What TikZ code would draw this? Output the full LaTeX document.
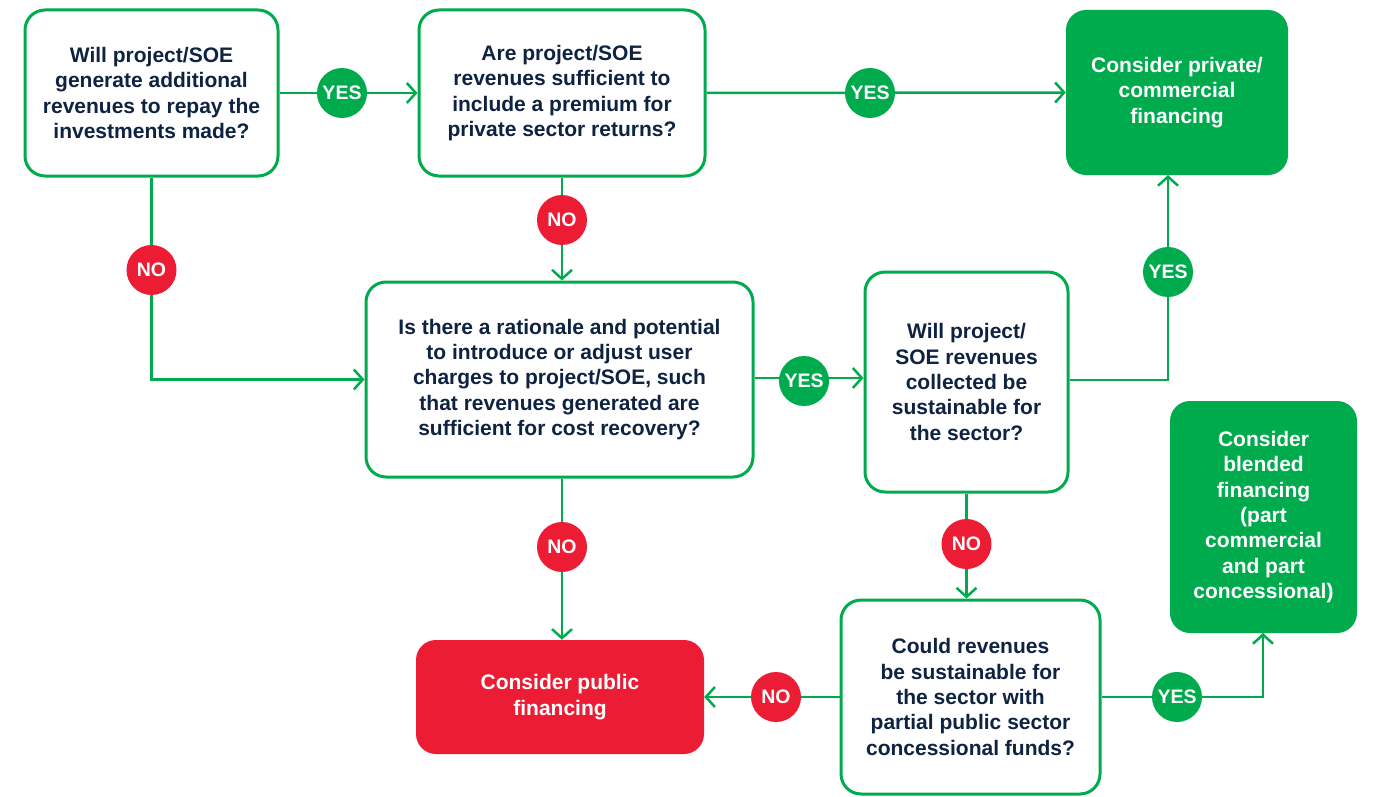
\documentclass[tikz,border=0pt]{standalone}
\usepackage{fontspec}
\setmainfont{Liberation Sans}
\usetikzlibrary{arrows.meta}
\definecolor{gr}{HTML}{00AB4E}
\definecolor{rd}{HTML}{EB1C33}
\definecolor{nv}{HTML}{0E2241}
\begin{document}
\begin{tikzpicture}[x=1pt,y=-1pt,
  q/.style={draw=gr,line width=3pt,rounded corners=20pt,fill=white,text=nv,align=center,
    font=\fontsize{21}{25.3}\selectfont\bfseries,inner sep=0pt},
  gbox/.style={fill=gr,rounded corners=20pt,text=white,align=center,
    font=\fontsize{21}{25.3}\selectfont\bfseries,inner sep=0pt},
  rbox/.style={fill=rd,rounded corners=20pt,text=white,align=center,
    font=\fontsize{21}{25.3}\selectfont\bfseries,inner sep=0pt},
  yes/.style={circle,fill=gr,text=white,minimum size=50pt,inner sep=0pt,font=\fontsize{19.5}{20}\selectfont\bfseries},
  no/.style={circle,fill=rd,text=white,minimum size=50pt,inner sep=0pt,font=\fontsize{19.5}{20}\selectfont\bfseries},
  ln/.style={draw=gr,line width=2.5pt},
  ar/.style={ln,-{Straight Barb[length=9pt,width=20pt,line width=2.5pt]}}]
\useasboundingbox (0,0) rectangle (1376,797);
% boxes
\node[q,minimum width=253pt,minimum height=166pt] (A) at (151.5,93) {Will project/SOE\\generate additional\\revenues to repay the\\investments made?};
\node[q,minimum width=286pt,minimum height=166pt] (B) at (562,93) {Are project/SOE\\revenues sufficient to\\include a premium for\\private sector returns?};
\node[gbox,minimum width=222pt,minimum height=165pt] (C) at (1177,92.5) {Consider private/\\commercial\\financing};
\node[q,minimum width=387pt,minimum height=195pt] (D) at (559.5,379.5) {Is there a rationale and potential\\to introduce or adjust user\\charges to project/SOE, such\\that revenues generated are\\sufficient for cost recovery?};
\node[q,minimum width=203pt,minimum height=220pt] (E) at (966.5,382) {Will project/\\SOE revenues\\collected be\\sustainable for\\the sector?};
\node[gbox,minimum width=187pt,minimum height=232pt] (F) at (1263.5,517) {Consider\\blended\\financing\\(part\\commercial\\and part\\concessional)};
\node[rbox,minimum width=288pt,minimum height=114pt] (G) at (560,697) {Consider public\\financing};
\node[q,minimum width=259pt,minimum height=194pt] (H) at (970.5,697) {Could revenues\\be sustainable for\\the sector with\\partial public sector\\concessional funds?};
% helper coordinates
\coordinate (aB) at (151.5,379.5);
\coordinate (eR) at (1168,380);
\coordinate (cB) at (1168,175);
\coordinate (hR) at (1263,697);
\coordinate (fB) at (1263,633);
% connectors
\draw[ar] (A.east) -- (B.west);
\draw[ar] (B.east) -- (C.west);
\draw[ar] (B.south) -- (B.south|-D.north);
\draw[ar] (A.south) -- (aB) -- (D.west);
\draw[ar] ([yshift=1.5pt]D.east) -- ([yshift=1.5pt]D.east-|E.west);
\draw[ar] (E.east|-eR) -- (eR) -- (cB);
\draw[ar] (B.south|-D.south) -- (B.south|-G.north);
\draw[ar] (E.south) -- (E.south|-H.north);
\draw[ar] (H.west) -- (G.east);
\draw[ar] (H.east) -- (hR) -- (fB);
% labels
\node[yes] (y1) at (342,93) {YES};
\node[yes] (y2) at (870,93) {YES};
\node[no] (n1) at (562,220) {NO};
\node[no] (n2) at (151.5,270) {NO};
\node[yes] (y3) at (804,381) {YES};
\node[yes] (y4) at (1168,272) {YES};
\node[no] (n3) at (562,547) {NO};
\node[no] (n4) at (966.5,544) {NO};
\node[no] (n5) at (776,697) {NO};
\node[yes] (y5) at (1177,697) {YES};
\end{tikzpicture}
\end{document}
